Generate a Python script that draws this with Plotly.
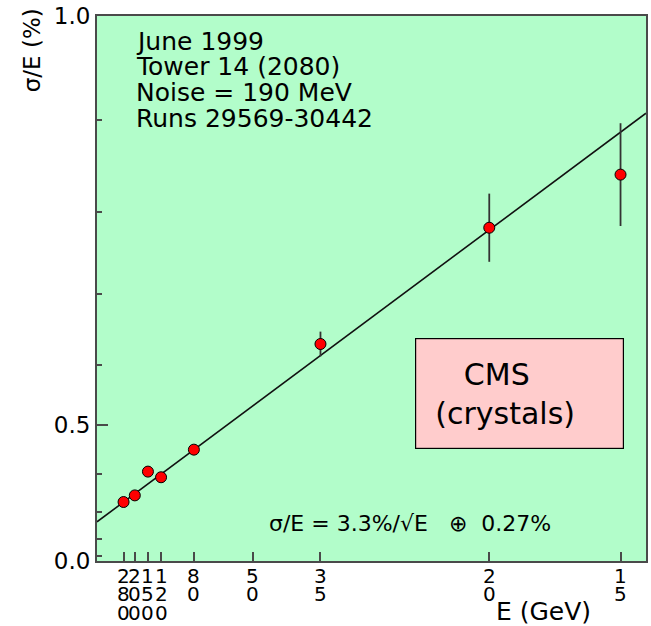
import numpy as np
import plotly.graph_objects as go

# ---- data ----
energies = [280, 200, 150, 120, 80, 35, 20, 15]            # GeV
sigma_over_E = [0.329, 0.347, 0.405, 0.392, 0.452, 0.631, 0.782, 0.842]  # %
sigma_err = [0.004, 0.004, 0.004, 0.004, 0.005, 0.018, 0.040, 0.056]    # %
tick_energies = [280, 200, 150, 120, 80, 50, 35, 20, 15]
y_major_vals = [0.0, 0.5, 1.0]
y_major_text = ["0.0", "0.5", "1.0"]
y_minor_vals = [0.1, 0.2, 0.3, 0.4, 0.6, 0.7, 0.8, 0.9]
fit_a = 3.28   # stochastic term (%·sqrt(GeV))
fit_c = 0.264  # constant term (%)
info_lines = ["June 1999", "Tower 14 (2080)", "Noise = 190 MeV", "Runs 29569-30442"]
formula_text = "σ/E = 3.3%/√E &nbsp; ⊕ &nbsp;0.27%"

FONT = "DejaVu Sans, sans-serif"
GREEN = "#b2fdca"
AXC = "#4a4a4a"

# plotted in (1/E, (sigma/E)^2) space
x = [1.0 / e for e in energies]
y = [s ** 2 for s in sigma_over_E]
yerr = [2 * s * d for s, d in zip(sigma_over_E, sigma_err)]

XR = [0.0002, 0.0699]
xfit = np.linspace(XR[0], XR[1], 50)
yfit = fit_a ** 2 * xfit + fit_c ** 2

fig = go.Figure()
fig.add_trace(go.Scatter(x=xfit, y=yfit, mode="lines",
                         line=dict(color="#111111", width=1.6), showlegend=False))
fig.add_trace(go.Scatter(
    x=x, y=y, mode="markers",
    marker=dict(color="#ff0000", size=11, line=dict(color="#000000", width=1)),
    error_y=dict(type="data", array=yerr, visible=True, color="#333333",
                 thickness=1.8, width=0),
    showlegend=False))

fig.update_layout(
    width=651, height=626,
    margin=dict(l=97, r=3, t=13, b=65),
    paper_bgcolor="white", plot_bgcolor=GREEN,
    font=dict(family=FONT, size=20, color="black"),
)
fig.update_xaxes(
    range=XR, showgrid=False, zeroline=False,
    showline=True, linecolor=AXC, linewidth=2, mirror=True,
    tickmode="array", tickvals=[1.0 / e for e in tick_energies],
    ticks="inside", ticklen=9, tickwidth=1.5, tickcolor=AXC,
    showticklabels=False,
)
fig.update_yaxes(
    range=[0.0, 1.0], showgrid=False, zeroline=False,
    showline=True, linecolor=AXC, linewidth=2, mirror=True,
    tickmode="array", tickvals=[v ** 2 for v in y_major_vals], ticktext=y_major_text,
    ticks="inside", ticklen=11, tickwidth=1.5, tickcolor=AXC,
    tickfont=dict(size=23),
    minor=dict(tickmode="array", tickvals=[v ** 2 for v in y_minor_vals],
               ticks="inside", ticklen=5, tickwidth=1.5, tickcolor=AXC, showgrid=False),
)

# stacked-digit energy tick labels
row_offsets = [14.5, 33, 51.5]
for e in tick_energies:
    for i, d in enumerate(str(e)):
        fig.add_annotation(x=1.0 / e, y=0, xref="x", yref="paper",
                           text=d, showarrow=False, yanchor="middle", xanchor="center",
                           yshift=-row_offsets[i], font=dict(size=20))

fig.add_annotation(x=0.813, y=0, yshift=-50, xref="paper", yref="paper", text="E (GeV)",
                   showarrow=False, font=dict(size=25), xanchor="center", yanchor="middle")
fig.add_annotation(x=-0.118, y=1, yshift=-34, xref="paper", yref="paper", text="σ/E (%)",
                   textangle=-90, showarrow=False, font=dict(size=23),
                   xanchor="center", yanchor="middle")

for i, line in enumerate(info_lines):
    fig.add_annotation(x=0.068, y=1, yshift=-(25 + 25.8 * i), xref="paper", yref="paper",
                       text=line, align="left", showarrow=False,
                       xanchor="left", yanchor="middle", font=dict(size=25))

fig.add_annotation(x=0.5705, y=0, yshift=38, xref="paper", yref="paper", text=formula_text,
                   showarrow=False, xanchor="center", yanchor="middle", font=dict(size=22))

fig.add_annotation(x=0.770, y=0.3075, xref="paper", yref="paper",
                   text="&nbsp;&nbsp;&nbsp;&nbsp;&nbsp;CMS<br>&nbsp;&nbsp;(crystals)", align="left",
                   showarrow=False, xanchor="center", yanchor="middle",
                   width=207, height=109, bgcolor="#ffcccc", bordercolor="#000000",
                   borderwidth=1.2, borderpad=0,
                   font=dict(family="DejaVu Sans, sans-serif", size=30))

fig.write_html("out.html")
